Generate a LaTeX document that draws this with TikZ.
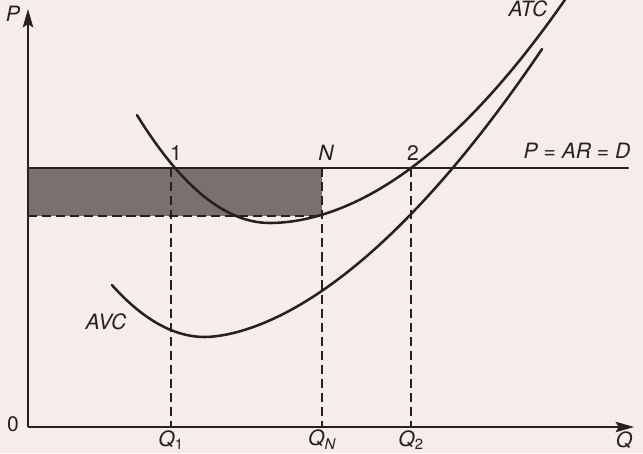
\documentclass[tikz,border=0pt]{standalone}
\usepackage{fontspec}
\setmainfont{TeX Gyre Heros}
\usepackage{tikz}
\usetikzlibrary{arrows.meta}
\definecolor{paper}{RGB}{247,236,234}
\definecolor{ink}{RGB}{38,32,32}
\definecolor{loss}{RGB}{120,113,110}

\begin{document}
\begin{tikzpicture}[x=0.025cm, y=-0.025cm,
    curve/.style={ink, line width=1.8pt, line cap=round},
    axis/.style={ink, line width=1.3pt, -{Stealth[length=4.6mm, width=2.6mm, inset=0.8mm]}},
    guide/.style={ink, line width=0.8pt, dash pattern=on 6.5pt off 3.5pt},
    lbl/.style={font=\fontsize{15}{17}\selectfont\itshape, text=ink, inner sep=0pt}]
    \fill[paper] (0,0) rectangle (643,453);
    \useasboundingbox (0,0) rectangle (643,453);
    % shaded area between price and ATC at Q_N
    \fill[loss] (28,168) rectangle (322,216);
    \draw[guide] (28,216) -- (322,216);
    % axes
    \coordinate (O) at (28,427);
    \draw[axis] (O) -- (28,9);
    \draw[axis] (O) -- (634,427);
    \node[lbl] (P) at (13,14) {P};
    \node[lbl, font=\fontsize{15}{17}\selectfont] (zero) at (13,424) {0};
    \node[lbl] (Q) at (624,440) {Q};
    % price line
    \draw[curve, line width=1.5pt] (28,168) -- (628,168);
    \node[lbl] (PARD) at (577,151) {P = AR = D};
    % quantities
    \foreach \x/\name/\txt in {171/Q1/\upshape 1, 322/QN/N, 411/Q2/\upshape 2} {
        \draw[guide] (\x,168) -- (\x,427);
        \node[lbl] (\name) at (\x,440) {Q\textsubscript{\txt}};
    }
    \node[lbl, font=\fontsize{15}{17}\selectfont] (p1) at (176,153) {1};
    \node[lbl] (pN) at (326,153) {N};
    \node[lbl, font=\fontsize{15}{17}\selectfont] (p2) at (413,153) {2};
    % cost curves
    \draw[curve] plot[domain=137:270, samples=40] (\x, {223-61*((270-\x)/100)*((270-\x)/100)})
        -- plot[domain=270.5:565, samples=60] (\x, {223-28.6*((\x-270)/100)^1.9});
    \draw[curve] plot[domain=112:205, samples=40] (\x, {337-60*((205-\x)/100)*((205-\x)/100)})
        -- plot[domain=205.5:542, samples=60] (\x, {337-35.2*((\x-205)/100)^1.73});
    \node[lbl] (ATC) at (528,9) {ATC};
    \node[lbl] (AVC) at (106,322) {AVC};
\end{tikzpicture}
\end{document}
